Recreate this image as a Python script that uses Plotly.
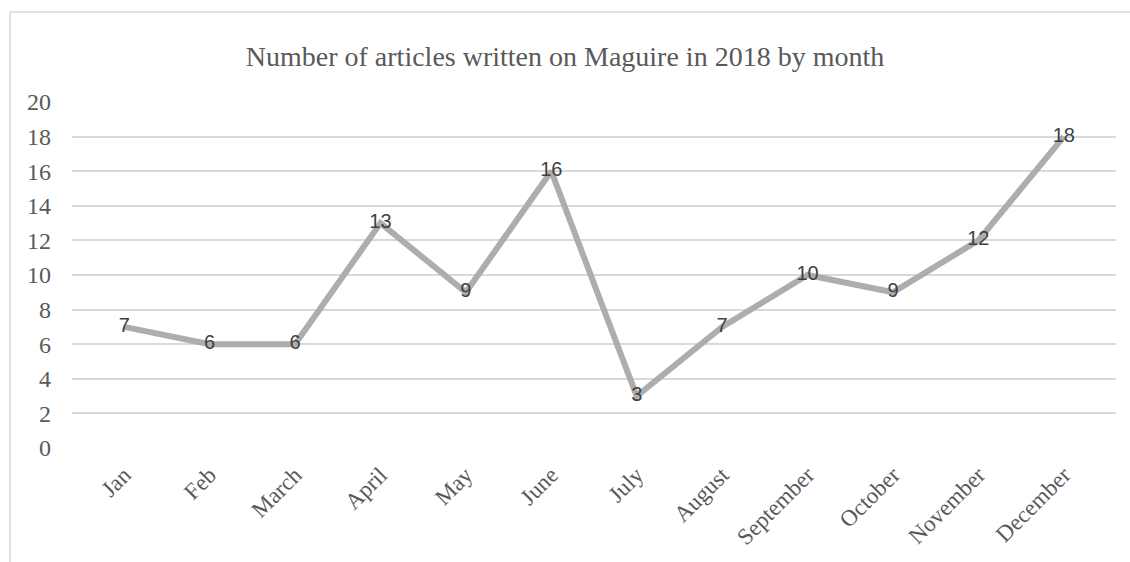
import plotly.graph_objects as go

months = ["Jan", "Feb", "March", "April", "May", "June", "July", "August",
          "September", "October", "November", "December"]
articles = [7, 6, 6, 13, 9, 16, 3, 7, 10, 9, 12, 18]
y_ticks = [0, 2, 4, 6, 8, 10, 12, 14, 16, 18, 20]

L, R, T, B = 72, 14, 102, 114
W, H = 1130, 562
pw, ph = W - L - R, H - T - B

fig = go.Figure()
fig.add_trace(go.Scatter(
    x=months, y=articles, mode="lines+text",
    text=[str(v) for v in articles], textposition="middle center",
    textfont=dict(family="Liberation Sans, Arial", size=20, color="#404040"),
    line=dict(color="#ADADAD", width=6),
    cliponaxis=False, hoverinfo="skip",
))

fig.update_layout(
    width=W, height=H,
    margin=dict(l=L, r=R, t=T, b=B),
    paper_bgcolor="white", plot_bgcolor="white",
    showlegend=False,
    title=dict(text="Number of articles written on Maguire in 2018 by month",
               x=0.5, xanchor="center", y=1 - 56 / H, yanchor="middle",
               font=dict(family="Liberation Serif, Times New Roman", size=28, color="#595959")),
    xaxis=dict(type="category", tickangle=-45, showgrid=False, showline=False,
               ticks="", zeroline=False, ticklabelstandoff=8,
               tickfont=dict(family="Liberation Serif, Times New Roman", size=23, color="#595959")),
    yaxis=dict(range=[0, 20], tickvals=y_ticks, showgrid=True, gridcolor="#D9D9D9",
               gridwidth=1.5, zeroline=False, showline=False, ticks="",
               ticklabelstandoff=20,
               tickfont=dict(family="Liberation Serif, Times New Roman", size=24, color="#595959")),
    shapes=[dict(type="rect", xref="paper", yref="paper",
                 x0=(10 - L) / pw, x1=(W + 20 - L) / pw,
                 y0=-(H + 20 - (T + ph)) / ph, y1=(T + ph - 12) / ph,
                 line=dict(color="#D9D9D9", width=1.5), fillcolor="rgba(0,0,0,0)",
                 layer="below")],
)

fig.write_html("out.html")
